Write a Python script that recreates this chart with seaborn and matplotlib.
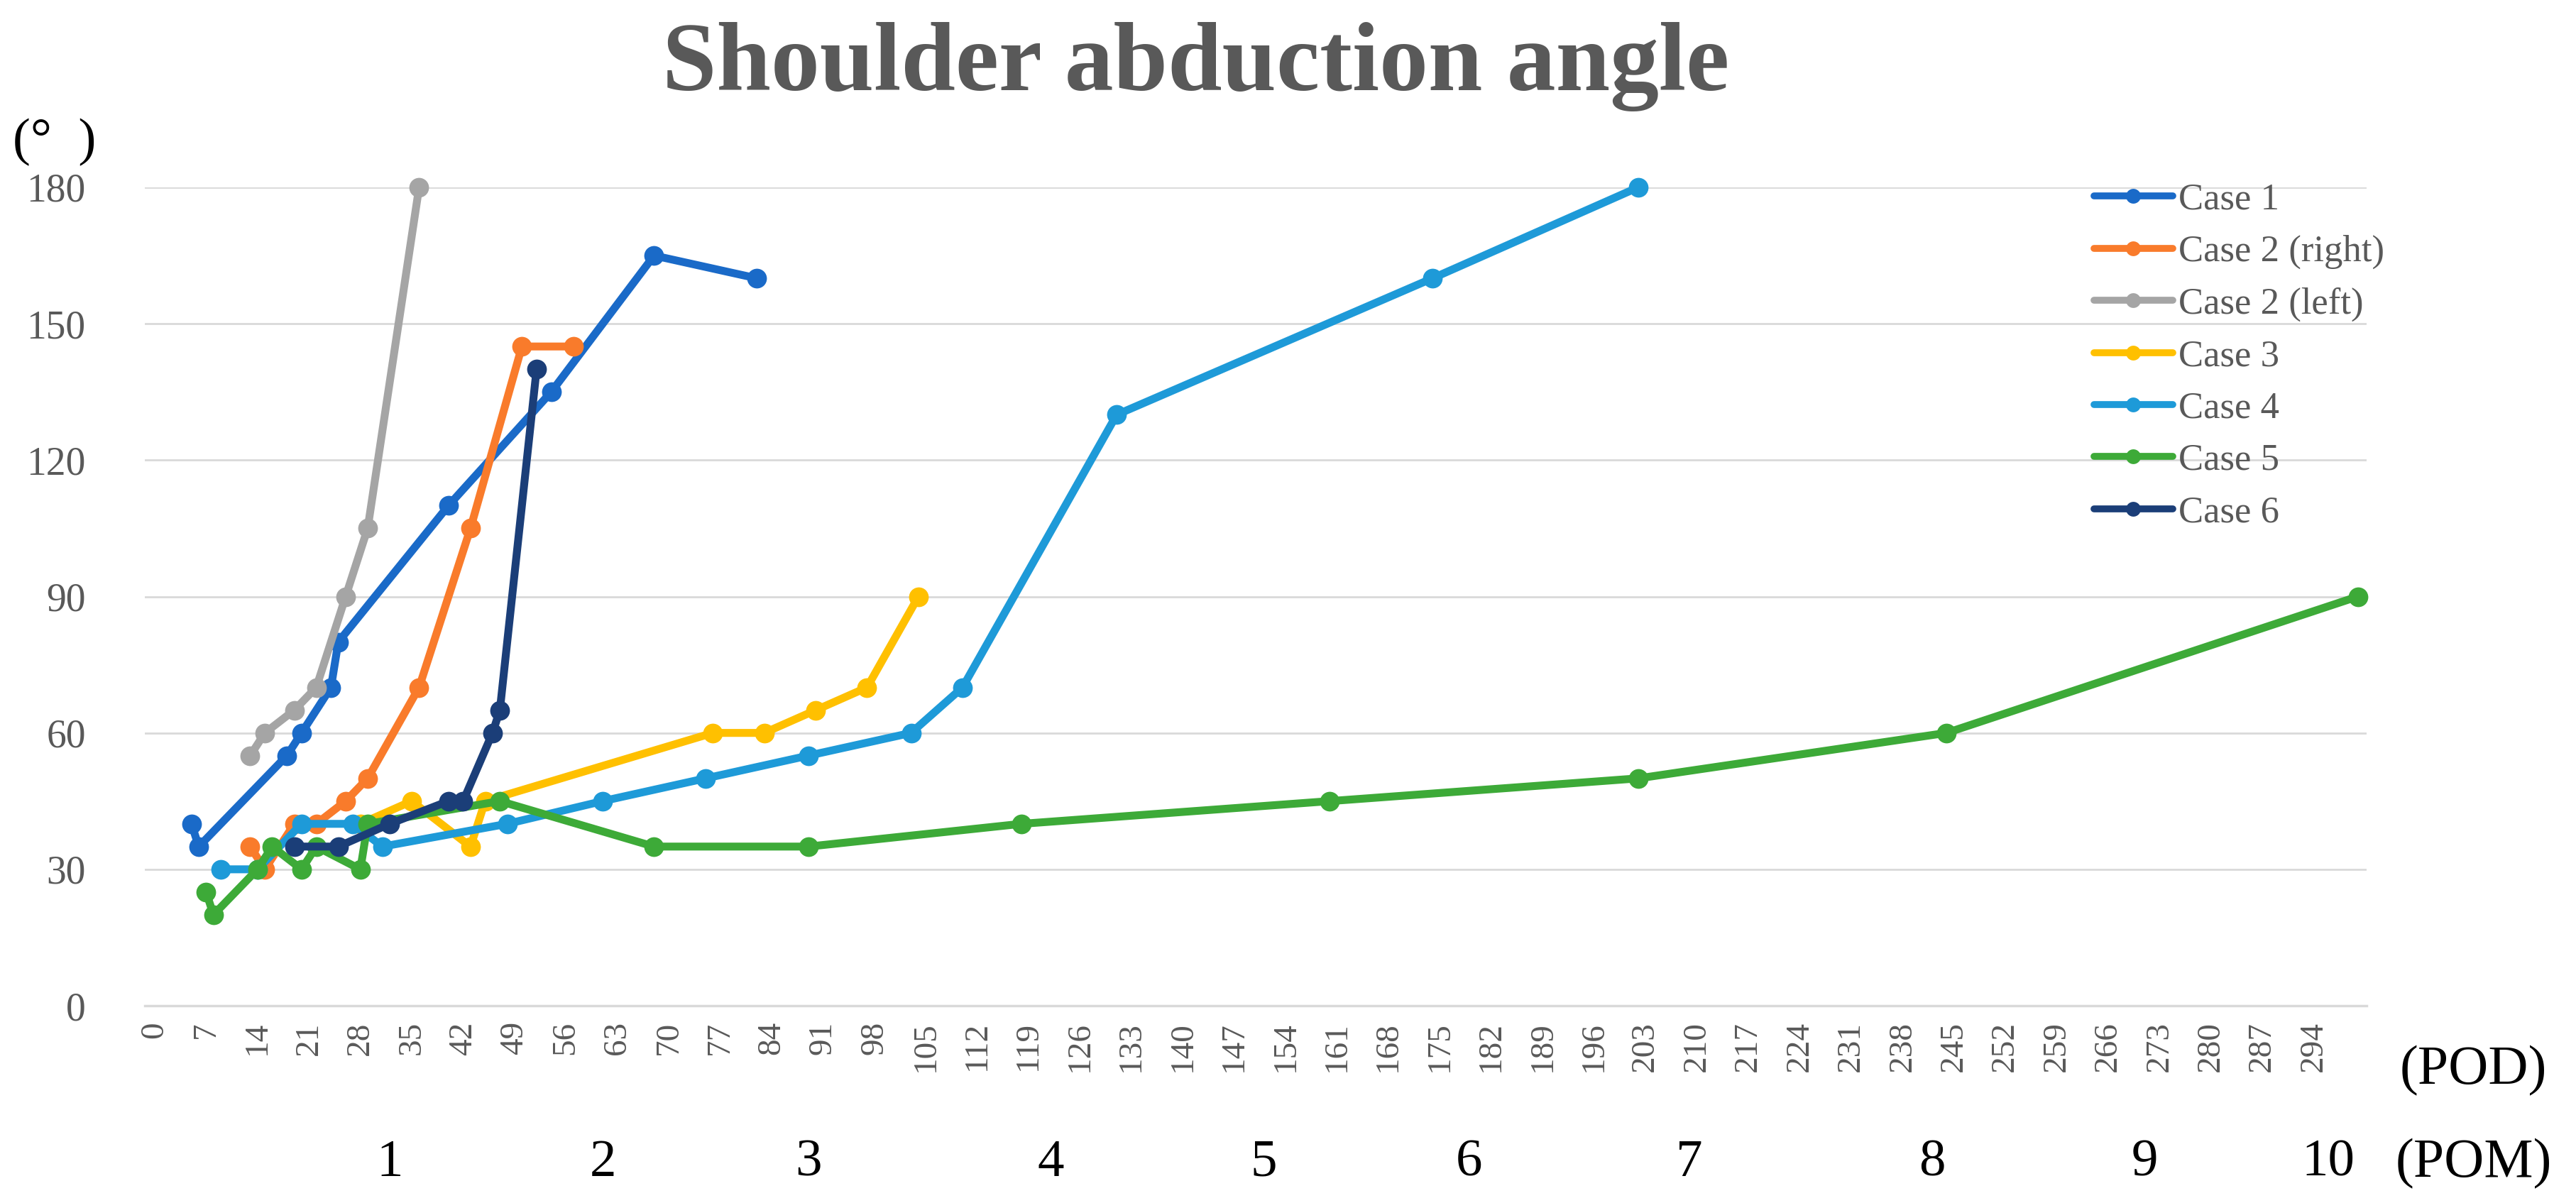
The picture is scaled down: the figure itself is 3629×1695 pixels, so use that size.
import pandas as pd
import seaborn as sns
import matplotlib.pyplot as plt
from matplotlib.lines import Line2D
from matplotlib import transforms

# series names and colours
cases = ['Case 1', 'Case 2 (right)', 'Case 2 (left)', 'Case 3', 'Case 4', 'Case 5', 'Case 6']
colors = ['#1A6AC8', '#F97B2B', '#A5A5A5', '#FFC000', '#1E9AD8', '#3DAA38', '#1B3E78']

# post-operative day / shoulder abduction angle (deg)
case1_days = [5, 6, 18, 20, 24, 25, 40, 54, 68, 82]
case1_angle = [40, 35, 55, 60, 70, 80, 110, 135, 165, 160]

case2r_days = [13, 15, 19, 22, 26, 29, 36, 43, 50, 57]
case2r_angle = [35, 30, 40, 40, 45, 50, 70, 105, 145, 145]

case2l_days = [13, 15, 19, 22, 26, 29, 36]
case2l_angle = [55, 60, 65, 70, 90, 105, 180]

case3_days = [28, 35, 43, 45, 76, 83, 90, 97, 104]
case3_angle = [40, 45, 35, 45, 60, 60, 65, 70, 90]

case4_days = [9, 14, 20, 27, 31, 48, 61, 75, 89, 103, 110, 131, 174, 202]
case4_angle = [30, 30, 40, 40, 35, 40, 45, 50, 55, 60, 70, 130, 160, 180]

case5_days = [7, 8, 14, 16, 20, 22, 28, 29, 47, 68, 89, 118, 160, 202, 244, 300]
case5_angle = [25, 20, 30, 35, 30, 35, 30, 40, 45, 35, 35, 40, 45, 50, 60, 90]

case6_days = [19, 25, 32, 40, 42, 46, 47, 52]
case6_angle = [35, 35, 40, 45, 45, 60, 65, 140]

pod_ticks = list(range(0, 295, 7))
y_ticks = [0, 30, 60, 90, 120, 150, 180]
pom_labels = ['1', '2', '3', '4', '5', '6', '7', '8', '9', '10']
pom_days = [32, 61, 89, 122, 151, 179, 209, 242, 271, 296]

all_days = [case1_days, case2r_days, case2l_days, case3_days, case4_days, case5_days, case6_days]
all_angle = [case1_angle, case2r_angle, case2l_angle, case3_angle, case4_angle, case5_angle, case6_angle]

# long table for seaborn
frames = []
for name, d, a in zip(cases, all_days, all_angle):
    frames.append(pd.DataFrame({'POD': d, 'angle': a, 'case': name}))
df = pd.concat(frames, ignore_index=True)

sns.set_style('white')
plt.rcParams['font.family'] = ['Liberation Serif', 'DejaVu Serif']

fig = plt.figure(figsize=(36.3, 16.95), dpi=100)
ax = fig.add_axes([204 / 3630, 1 - 1417 / 1695, (3334 - 204) / 3630, (1417 - 264) / 1695])

sns.lineplot(
    data=df, x='POD', y='angle', hue='case', hue_order=cases,
    palette=dict(zip(cases, colors)), estimator=None, sort=False,
    marker='o', markersize=20, markeredgewidth=0, linewidth=8,
    solid_joinstyle='round', solid_capstyle='round', clip_on=False,
    legend=False, ax=ax
)

ax.set_xlim(-1.35, 301.2)
ax.set_ylim(0, 180)
ax.set_yticks(y_ticks)
ax.set_xticks(pod_ticks)
ax.set_xticklabels([str(t) for t in pod_ticks], rotation=90)
ax.set_xlabel('')
ax.set_ylabel('')

ax.grid(axis='y', color='#D9D9D9', linewidth=2)
ax.grid(axis='x', visible=False)
ax.set_axisbelow(True)
for s in ['top', 'right', 'left']:
    ax.spines[s].set_visible(False)
ax.spines['bottom'].set_color('#D9D9D9')
ax.spines['bottom'].set_linewidth(2.5)

ax.tick_params(axis='x', length=0, pad=16, labelsize=34, labelcolor='#595959')
ax.tick_params(axis='y', length=0, pad=60, labelsize=40, labelcolor='#595959')

# title and unit
fig.text(0.464, 0.925, 'Shoulder abduction angle', ha='center', va='baseline',
         fontsize=99, fontweight='bold', color='#595959')
fig.text(0.005, 0.862, '(°  )', ha='left', va='bottom', fontsize=54, color='black')

# day / month axis captions
fig.text(0.960, 0.110, '(POD)', ha='center', va='center', fontsize=56, color='black')
fig.text(0.960, 0.033, '(POM)', ha='center', va='center', fontsize=56, color='black')
trans = transforms.blended_transform_factory(ax.transData, fig.transFigure)
for lab, d in zip(pom_labels, pom_days):
    ax.text(d, 0.033, lab, transform=trans, ha='center', va='center',
            fontsize=54, color='black')

# legend
handles = [Line2D([0], [0], color=c, lw=7, marker='o', markersize=15,
                  markeredgewidth=0) for c in colors]
fig.legend(handles, cases, loc='upper left', bbox_to_anchor=(2950 / 3630, 0.848),
           frameon=False, fontsize=38, handlelength=2.1, handletextpad=0.15,
           labelspacing=0.48, borderpad=0, borderaxespad=0, labelcolor='#595959')

fig.savefig('out.png', dpi=100)
